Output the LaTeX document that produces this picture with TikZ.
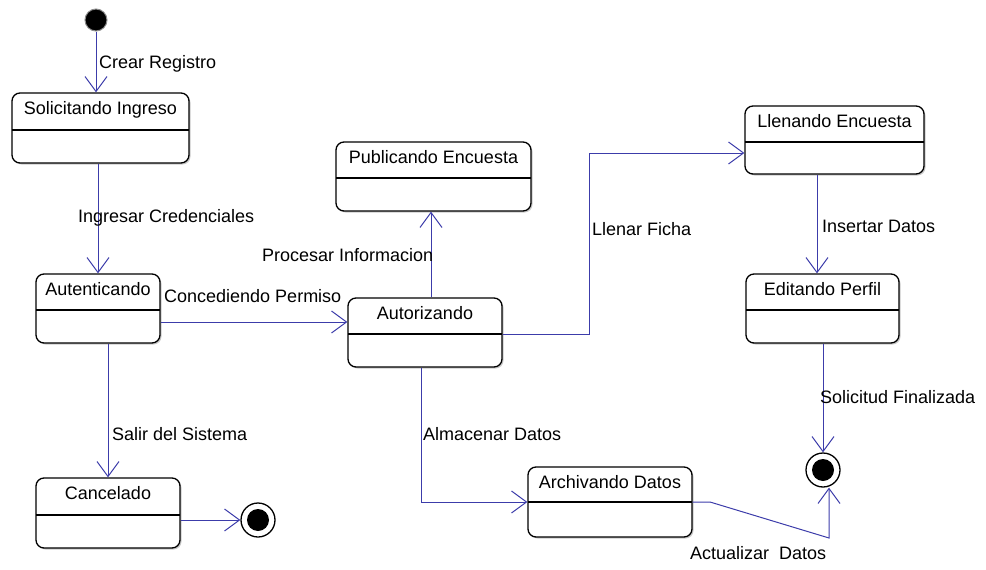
\documentclass[tikz,border=0pt]{standalone}
\usepackage{fontspec}
\setmainfont{Liberation Sans}
\usetikzlibrary{arrows.meta,fit,shadows}
\definecolor{conn}{RGB}{60,60,170}
\tikzset{
  statebox/.style={draw=black, line width=1.3pt, rounded corners=8pt, inner sep=0pt, fill=white,
    drop shadow={shadow xshift=1.5pt, shadow yshift=-1.5pt, fill=black!35, opacity=0.6}},
  trans/.style={draw=conn, line width=1pt, -{Straight Barb[length=15pt,width=22pt,line width=1pt]}},
  lbl/.style={font=\fontsize{18}{20}\selectfont, anchor=base west, inner sep=0pt},
  stxt/.style={font=\fontsize{18}{20}\selectfont, anchor=base, inner sep=0pt},
  finst/.style={circle, draw=black, line width=1.3pt, fill=white, minimum size=34pt, inner sep=0pt,
    path picture={\fill[black] (path picture bounding box.center) circle (11pt);}},
  initst/.style={circle, fill=black, draw=black!45, line width=1pt, minimum size=22pt, inner sep=0pt},
}
\newcommand{\umlstate}[7]{%
  \node[statebox, fit={(#2,#3)(#4,#5)}] (#1) {};
  \draw[line width=1.3pt] (#2,#6) -- (#4,#6);
  \node[stxt] (#1-t) at ({(#2+#4)/2},{#3+21}) {#7};
}
\begin{document}
\begin{tikzpicture}[x=1pt,y=-1pt]
\useasboundingbox (0,0) rectangle (986,570);

% states
\umlstate{sol}{12}{93}{189}{163}{130}{Solicitando Ingreso}
\umlstate{aut}{36}{274}{160}{343}{310}{Autenticando}
\umlstate{can}{36}{478}{180}{548}{515}{Cancelado}
\umlstate{pub}{336}{142}{531}{211}{178}{Publicando Encuesta}
\umlstate{autz}{348}{298}{502}{367}{334}{Autorizando}
\umlstate{lle}{745}{106}{924}{174}{142}{Llenando Encuesta}
\umlstate{edi}{746}{274}{899}{343}{310}{Editando Perfil}
\umlstate{arc}{528}{467}{692}{537}{502}{Archivando Datos}

\node[initst] (init) at (96,20) {};
\node[finst] (fin1) at (258,520) {};
\node[finst] (fin2) at (823,470) {};

% helper coordinates
\coordinate (yAA) at (0,322);
\coordinate (xP) at (431,0);
\coordinate (ll1) at (589,334);
\coordinate (ll2) at (589,153);
\coordinate (ar1) at (421,502);
\coordinate (xI) at (817,0);
\coordinate (ac1) at (710,502);
\coordinate (ac2) at (829,538);

% transitions
\draw[trans] (init) -- (init |- sol.north);
\draw[trans] (sol.south -| aut.north) -- (aut.north);
\draw[trans] (aut.east |- yAA) -- (autz.west |- yAA);
\draw[trans] (aut.south -| can.north) -- (can.north);
\draw[trans] (can.east |- fin1) -- (fin1.west);
\draw[trans] (autz.north -| xP) -- (pub.south -| xP);
\draw[trans] (autz.east |- ll1) -- (ll1) -- (ll2) -- (lle.west |- ll2);
\draw[trans] (autz.south -| ar1) -- (ar1) -- (arc.west |- ar1);
\draw[trans] (lle.south -| xI) -- (edi.north -| xI);
\draw[trans] (edi.south -| fin2) -- (fin2.north);
\draw[trans] (arc.east |- ac1) -- (ac1) -- (ac2) -- ([xshift=6pt]fin2.south);

% labels
\node[lbl] (l1) at (99,68) {Crear Registro};
\node[lbl] (l2) at (78,222) {Ingresar Credenciales};
\node[lbl] (l3) at (164,302) {Concediendo Permiso};
\node[lbl] (l4) at (112,440) {Salir del Sistema};
\node[lbl] (l5) at (262,261) {Procesar Informacion};
\node[lbl] (l6) at (592,235) {Llenar Ficha};
\node[lbl] (l7) at (423,440) {Almacenar Datos};
\node[lbl] (l8) at (822,232) {Insertar Datos};
\node[lbl] (l9) at (820,403) {Solicitud Finalizada};
\node[lbl] (l10) at (690,559) {Actualizar\ \ Datos};
\end{tikzpicture}
\end{document}
